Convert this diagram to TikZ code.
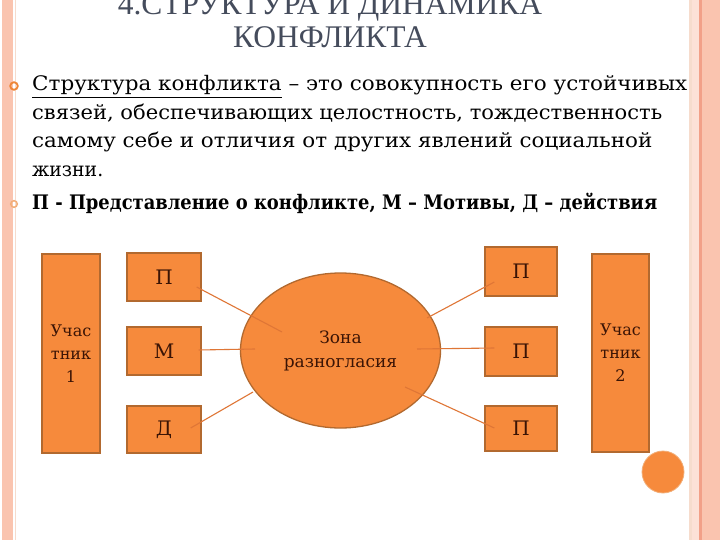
\documentclass[tikz,border=0pt]{standalone}
\usepackage{fontspec}
\usepackage{graphicx}
\usetikzlibrary{shapes.geometric}
\setmainfont{DejaVu Serif}
\newfontfamily\titlefont{Liberation Serif}
\definecolor{stripe}{HTML}{FAC4AF}
\definecolor{stripedark}{HTML}{F2A088}
\definecolor{stripepale}{HTML}{F6DCCD}
\definecolor{titlegray}{HTML}{454C5C}
\definecolor{boxfill}{HTML}{F68A3C}
\definecolor{boxline}{HTML}{B2692F}
\definecolor{boxtext}{HTML}{3B1405}
\definecolor{connline}{HTML}{DF7636}
\definecolor{bulleta}{HTML}{EE8536}
\definecolor{bulletb}{HTML}{F2AE78}
\tikzset{
  titletext/.style={anchor=base, inner sep=0pt, text=titlegray, font=\titlefont\fontsize{31.5}{34}\selectfont},
  bodyline/.style={anchor=base west, inner sep=0pt, text=black, font=\fontsize{20}{24}\selectfont},
  obox/.style={draw=boxline, line width=1.3pt, fill=boxfill, inner sep=0pt, text=boxtext, align=center},
  conn/.style={draw=connline, line width=1.1pt},
  bullring/.style={line width=1.8pt},
}
\begin{document}
\begin{tikzpicture}[x=1pt,y=-1pt]
\useasboundingbox (0,0) rectangle (720,540);
\fill[white] (0,0) rectangle (720,540);
% left border
\fill[stripe] (2,0) rectangle (13,540);
\draw[stripepale, line width=1pt] (15.5,0) -- (15.5,540);
% right border
\fill[stripepale] (689,0) rectangle (692,540);
\fill[stripe!50] (692,0) rectangle (699,540);
\fill[stripedark] (699,0) rectangle (702,540);
\fill[stripe] (702,0) rectangle (720,540);
% title
\node[titletext] (t1) at (330,15) {4.СТРУКТУРА И ДИНАМИКА};
\node[titletext] (t2) at (330,48) {КОНФЛИКТА};
% bullets
\draw[bulleta, bullring] (14,86) circle (3.8);
\draw[bulletb, line width=1.5pt] (14,204) circle (3.3);
% body text
\node[bodyline] (b1) at (32,91) {\resizebox{655pt}{\height}{\underline{Структура конфликта} – это совокупность его устойчивых}};
\node[bodyline] (b2) at (32,120) {\resizebox{630pt}{\height}{связей, обеспечивающих целостность, тождественность}};
\node[bodyline] (b3) at (32,148) {\resizebox{620pt}{\height}{самому себе и отличия от других явлений социальной}};
\node[bodyline] (b4) at (32,177) {\resizebox{71pt}{\height}{жизни.}};
\node[bodyline] (b5) at (32,210) {\resizebox{625pt}{\height}{\bfseries П - Представление о конфликте, М – Мотивы, Д – действия}};
% diagram
\node[obox, minimum width=58pt, minimum height=199pt, font=\fontsize{16}{23}\selectfont] (u1) at (71,353.5) {Учас\\тник\\1};
\node[obox, minimum width=74pt, minimum height=48pt, font=\fontsize{20}{22}\selectfont] (pl) at (164,277) {П};
\node[obox, minimum width=74pt, minimum height=48pt, font=\fontsize{20}{22}\selectfont] (ml) at (164,351) {М};
\node[obox, minimum width=74pt, minimum height=47pt, font=\fontsize{20}{22}\selectfont] (dl) at (164,429.5) {Д};
\node[obox, ellipse, minimum width=200pt, minimum height=155pt, font=\fontsize{17}{24}\selectfont] (zone) at (340.5,350.5) {Зона\\разногласия};
\node[obox, minimum width=72pt, minimum height=49pt, font=\fontsize{20}{22}\selectfont] (pr1) at (521,271.5) {П};
\node[obox, minimum width=72pt, minimum height=49pt, font=\fontsize{20}{22}\selectfont] (pr2) at (521,351.5) {П};
\node[obox, minimum width=72pt, minimum height=45pt, font=\fontsize{20}{22}\selectfont] (pr3) at (521,428.5) {П};
\node[obox, minimum width=57pt, minimum height=198pt, font=\fontsize{16}{23}\selectfont] (u2) at (620.5,353) {Учас\\тник\\2};
\node[circle, fill=boxfill, draw=bulletb, line width=0.8pt, minimum size=42pt, inner sep=0pt] (deco) at (663,472) {};
% connectors
\coordinate (zl1) at (282,332);
\coordinate (zl2) at (255,349);
\coordinate (zl3) at (253,392);
\coordinate (zr1) at (427,318);
\coordinate (zr2) at (417,349);
\coordinate (zr3) at (405,387);
\draw[conn] ([shift={(-5,10)}]pl.east) -- (zl1);
\draw[conn] ([shift={(-3,-1)}]ml.east) -- (zl2);
\draw[conn] ([shift={(-11,-1.5)}]dl.east) -- (zl3);
\draw[conn] ([shift={(10,10.5)}]pr1.west) -- (zr1);
\draw[conn] ([shift={(10,-3.5)}]pr2.west) -- (zr2);
\draw[conn] ([shift={(10,-0.5)}]pr3.west) -- (zr3);
\end{tikzpicture}
\end{document}
